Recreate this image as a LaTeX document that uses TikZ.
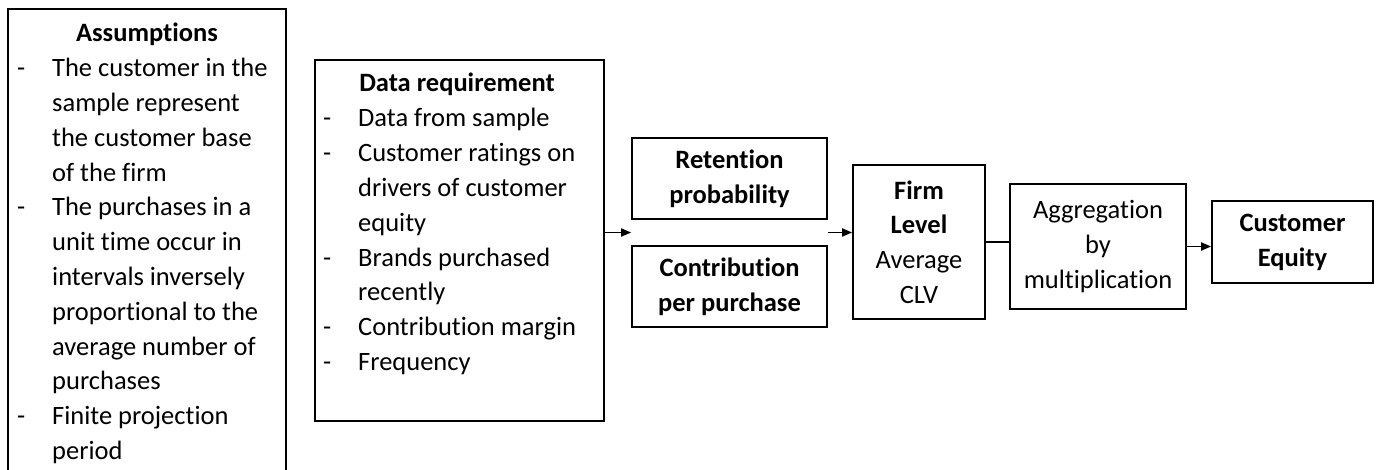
\documentclass[tikz,border=0pt]{standalone}
\usepackage{fontspec}
\setmainfont{Carlito}[Ligatures=CommonOff]
\usetikzlibrary{arrows.meta,calc}
\begin{document}
\begin{tikzpicture}[x=1pt,y=1pt,
  box/.style={draw, line width=1.7pt, rectangle, inner sep=0pt, align=center,
    font=\fontsize{26.5}{34.8}\selectfont},
  conn/.style={line width=1.7pt},
  arr/.style={conn, -{Triangle[length=10pt,width=8pt]}},
  txt/.style={inner sep=0pt, font=\fontsize{26.5}{34.8}\selectfont}]
\useasboundingbox (0,0) rectangle (1380,-470);

% boxes
\node[box, minimum width=278, minimum height=481] (assum) at (147,-249.5) {};
\node[box, minimum width=289, minimum height=361] (data) at (459.5,-240.5) {};
\node[box, minimum width=195, minimum height=81] (ret) at (729.5,-178.5)
  {\bfseries Retention\\\bfseries probability};
\node[box, minimum width=195, minimum height=81] (con) at (729.5,-286.5)
  {\bfseries Contribution\\\bfseries per purchase};
\node[box, minimum width=132, minimum height=154] (firm) at (919,-242)
  {\bfseries Firm\\\bfseries Level\\Average\\CLV};
\node[box, minimum width=176, minimum height=125] (agg) at (1098,-246.5)
  {Aggregation\\by\\multiplication};
\node[box, minimum width=161, minimum height=82] (ce) at (1292.5,-242)
  {\bfseries Customer\\\bfseries Equity};

% text of the two list boxes
\node[txt, anchor=base] (assum-title) at (147,-42) {\bfseries Assumptions};
\node[txt, anchor=base west] (assum-list) at (17,-76.8) {%
  \begin{tabular}[t]{@{}p{35pt}@{}l@{}}
  - & The customer in the\\
    & sample represent\\
    & the customer base\\
    & of the firm\\
  - & The purchases in a\\
    & unit time occur in\\
    & intervals inversely\\
    & proportional to the\\
    & average number of\\
    & purchases\\
  - & Finite projection\\
    & period
  \end{tabular}};

\node[txt, anchor=base] (data-title) at (457,-92) {\bfseries Data requirement};
\node[txt, anchor=base west] (data-list) at (323,-126.9) {%
  \begin{tabular}[t]{@{}p{35pt}@{}l@{}}
  - & Data from sample\\
  - & Customer ratings on\\
    & drivers of customer\\
    & equity\\
  - & Brands purchased\\
    & recently\\
  - & Contribution margin\\
  - & Frequency
  \end{tabular}};

% connectors
\coordinate (mid-in) at ($(ret.south west)!0.5!(con.north west)$);
\coordinate (mid-out) at ($(ret.south east)!0.5!(con.north east)$);
\draw[arr] (data.east |- mid-in) -- (mid-in);
\draw[arr] (mid-out) -- (firm.west |- mid-out);
\draw[conn] (firm.east) -- (agg.west |- firm.east);
\draw[arr] (agg.east) -- (ce.west |- agg.east);
\end{tikzpicture}
\end{document}
